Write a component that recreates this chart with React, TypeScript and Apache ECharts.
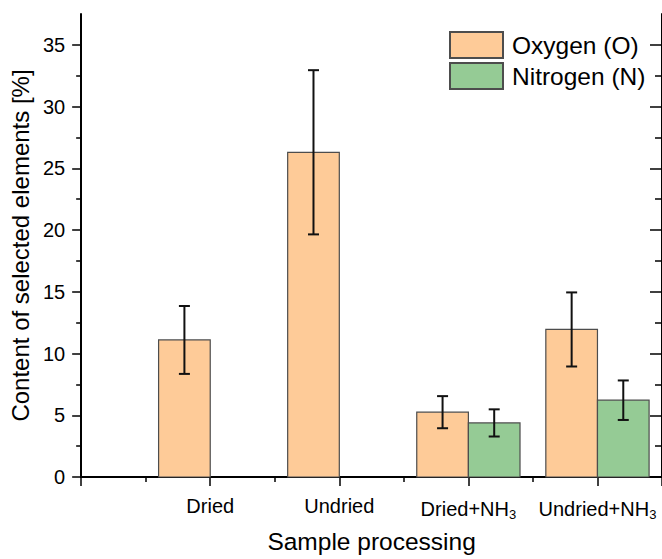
import React, { useEffect, useRef } from "react";
import * as echarts from "echarts";

const categories = ["Dried", "Undried", "Dried+NH3", "Undried+NH3"];
const oxygenValues = [11.1, 26.3, 5.25, 11.95];
const oxygenErrors = [2.75, 6.65, 1.3, 3.0];
const nitrogenValues: (number | null)[] = [null, null, 4.38, 6.22];
const nitrogenErrors: (number | null)[] = [null, null, 1.1, 1.6];
const yMajorTicks = [0, 5, 10, 15, 20, 25, 30, 35];
const yMinorTicks = [2.5, 7.5, 12.5, 17.5, 22.5, 27.5, 32.5];
const seriesNames = ["Oxygen (O)", "Nitrogen (N)"];

const FONT = "'Liberation Sans', Arial, sans-serif";
const O_COLOR = "#FECB98";
const N_COLOR = "#95CB95";
const BORDER = "#4d4d4d";
const BAR_W = 0.4;

function toData(values: (number | null)[], errors: (number | null)[]) {
  const out: number[][] = [];
  values.forEach((v, i) => {
    if (v != null) out.push([i + 1, v, errors[i] as number]);
  });
  return out;
}

function makeRenderItem(side: number, color: string) {
  return (params: any, api: any) => {
    const cat = api.value(0);
    const v = api.value(1);
    const e = api.value(2);
    const x0 = side < 0 ? cat - BAR_W : cat;
    const x1 = side < 0 ? cat : cat + BAR_W;
    const p0 = api.coord([x0, v]);
    const p1 = api.coord([x1, 0]);
    const cx = (p0[0] + p1[0]) / 2;
    const top = api.coord([cat, v + e])[1];
    const bot = api.coord([cat, v - e])[1];
    const cap = 5.5;
    return {
      type: "group",
      children: [
        {
          type: "rect",
          shape: { x: p0[0], y: p0[1], width: p1[0] - p0[0], height: p1[1] - p0[1] },
          style: { fill: color, stroke: BORDER, lineWidth: 1.2 },
        },
        { type: "line", shape: { x1: cx, y1: top, x2: cx, y2: bot }, style: { stroke: "#111", lineWidth: 2 } },
        { type: "line", shape: { x1: cx - cap, y1: top, x2: cx + cap, y2: top }, style: { stroke: "#111", lineWidth: 2 } },
        { type: "line", shape: { x1: cx - cap, y1: bot, x2: cx + cap, y2: bot }, style: { stroke: "#111", lineWidth: 2 } },
      ],
    };
  };
}

function xLabel(v: number) {
  if (Math.abs(v - Math.round(v)) > 1e-6) return "";
  const c = categories[Math.round(v) - 1];
  if (!c) return "";
  return c.replace("NH3", "NH{sub|3}");
}

export default function App() {
  const ref = useRef<HTMLDivElement>(null);
  useEffect(() => {
    if (!ref.current) return;
    const chart = echarts.init(ref.current, null, { renderer: "svg" });
    const axisLine = { show: true, lineStyle: { color: "#000", width: 2 } };
    const yBase = { type: "value", min: 0, max: 37.5, interval: 2.5, splitLine: { show: false } };
    chart.setOption({
      animation: false,
      backgroundColor: "#fff",
      textStyle: { fontFamily: FONT },
      grid: { left: 80, top: 14, bottom: 75, right: -3, containLabel: false },
      legend: {
        data: seriesNames,
        orient: "vertical",
        left: 449,
        top: 31,
        padding: 0,
        itemWidth: 53,
        itemHeight: 26,
        itemGap: 3,
        icon: "rect",
        textStyle: { fontSize: 24.5, color: "#000", fontFamily: FONT, padding: [0, 0, 0, 4] },
      },
      xAxis: [
        {
          type: "value",
          min: 0,
          max: 4.5,
          interval: 1,
          position: "bottom",
          axisLine,
          axisTick: { show: true, length: 9, lineStyle: { color: "#000", width: 1.5 } },
          minorTick: { show: true, splitNumber: 2, length: 5, lineStyle: { color: "#000", width: 1.5 } },
          splitLine: { show: false },
          minorSplitLine: { show: false },
          axisLabel: {
            formatter: xLabel,
            margin: 19,
            fontSize: 20,
            color: "#000",
            fontFamily: FONT,
            showMaxLabel: false,
            rich: { sub: { fontSize: 13, padding: [12, 0, 0, 0], color: "#000", fontFamily: FONT } },
          },
          name: "Sample processing",
          nameLocation: "middle",
          nameGap: 52,
          nameTextStyle: { fontSize: 24.5, color: "#000", fontFamily: FONT },
        },
        {
          type: "value",
          min: 0,
          max: 4.5,
          position: "top",
          axisLine,
          axisTick: { show: false },
          axisLabel: { show: false },
          splitLine: { show: false },
        },
      ],
      yAxis: [
        {
          ...yBase,
          position: "left",
          axisLine,
          axisTick: { show: true, length: 9, customValues: yMajorTicks, lineStyle: { color: "#000", width: 1.5 } },
          axisLabel: { customValues: yMajorTicks, fontSize: 20, color: "#000", margin: 16, fontFamily: FONT },
          name: "Content of selected elements [%]",
          nameLocation: "middle",
          nameGap: 44,
          nameRotate: 90,
          nameTextStyle: { fontSize: 24, color: "#000", fontFamily: FONT },
        },
        {
          ...yBase,
          position: "left",
          axisLine: { show: false },
          axisTick: { show: true, length: 5, customValues: yMinorTicks, lineStyle: { color: "#000", width: 1.5 } },
          axisLabel: { show: false },
        },
        {
          ...yBase,
          position: "right",
          axisLine,
          axisTick: { show: true, inside: true, length: 12, customValues: yMajorTicks, lineStyle: { color: "#000", width: 1.5 } },
          axisLabel: { show: false },
        },
        {
          ...yBase,
          position: "right",
          axisLine: { show: false },
          axisTick: { show: true, inside: true, length: 7, customValues: yMinorTicks, lineStyle: { color: "#000", width: 1.5 } },
          axisLabel: { show: false },
        },
      ],
      series: [
        {
          name: seriesNames[0],
          type: "custom",
          xAxisIndex: 0,
          yAxisIndex: 0,
          renderItem: makeRenderItem(-1, O_COLOR),
          itemStyle: { color: O_COLOR, borderColor: BORDER, borderWidth: 1.2 },
          encode: { x: 0, y: 1 },
          data: toData(oxygenValues, oxygenErrors),
          z: 3,
        },
        {
          name: seriesNames[1],
          type: "custom",
          xAxisIndex: 0,
          yAxisIndex: 0,
          renderItem: makeRenderItem(1, N_COLOR),
          itemStyle: { color: N_COLOR, borderColor: BORDER, borderWidth: 1.2 },
          encode: { x: 0, y: 1 },
          data: toData(nitrogenValues, nitrogenErrors),
          z: 3,
        },
      ],
    });
    return () => chart.dispose();
  }, []);
  return <div ref={ref} style={{ position: "absolute", left: 0, top: 0, width: 662, height: 559 }} />;
}
